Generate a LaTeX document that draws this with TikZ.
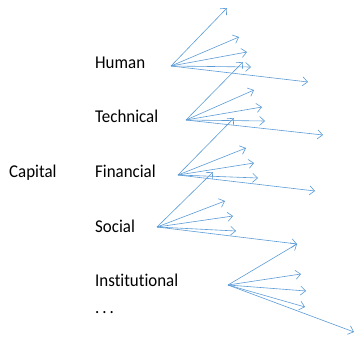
\documentclass[tikz,border=0pt]{standalone}
\usepackage{fontspec}
\setmainfont{Carlito}[Ligatures=NoCommon,FakeStretch=0.94]
\definecolor{capblue}{RGB}{91,155,213}
\usetikzlibrary{arrows.meta}

\begin{document}
\begin{tikzpicture}[x=1pt,y=-1pt,
  lbl/.style={anchor=base west,inner sep=0pt,font=\fontsize{18}{21}\selectfont},
  arr/.style={-{Straight Barb[length=5pt,width=9pt]},capblue,line width=0.6pt}]
  \useasboundingbox (0,0) rectangle (355,339);
  \node[lbl] (capital) at (9,177) {Capital};
  \foreach \n/\y/\t in {human/69/Human,technical/123/Technical,financial/177.5/Financial,
    social/232/Social,institutional/286/Institutional}
    \node[lbl] (\n) at (95,\y) {\t};
  \node[lbl] (more) at (95,313) {.\,.\,.};
  % where the arrows start
  \coordinate (o-human) at (171,66);
  \coordinate (o-technical) at (186,120);
  \coordinate (o-financial) at (178,175);
  \coordinate (o-social) at (157,227);
  \coordinate (o-institutional) at (228,285);
  \foreach \o/\x/\y [count=\i] in {
    human/227/8, human/239/37, human/247/52, human/251/67, human/308/82,
    technical/243/62, technical/254/90, technical/262/107, technical/265/121, technical/323/135,
    financial/234/118, financial/246/148, financial/254/163, financial/258/178, financial/315/191,
    social/213/172, social/225/201, social/233/216, social/236/231, social/297/244,
    institutional/297/244, institutional/301/274, institutional/306/291, institutional/305/307,
    institutional/354/332}{
    \coordinate (tip\i) at (\x,\y);
    \draw[arr] (o-\o) -- (tip\i);
  }
\end{tikzpicture}
\end{document}
